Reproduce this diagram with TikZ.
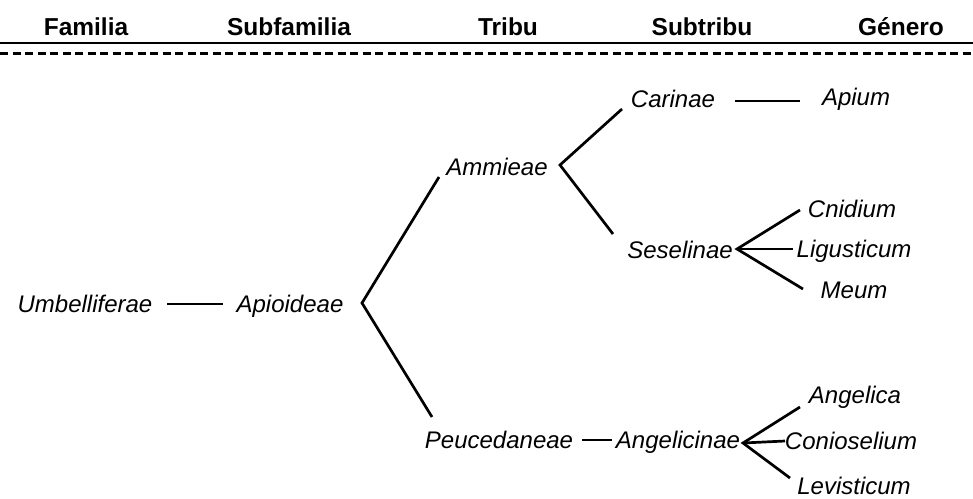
\documentclass[tikz,border=0pt]{standalone}
\usepackage{fontspec}
\setmainfont{Liberation Sans}
\begin{document}
\begin{tikzpicture}[x=1pt,y=-1pt,
  hdr/.style={font=\fontsize{24.5}{28}\selectfont\bfseries,inner sep=0pt,anchor=base},
  taxon/.style={font=\fontsize{24}{28}\selectfont\itshape,inner sep=0pt,anchor=base},
  link/.style={line width=2.7pt,line cap=butt,line join=miter}]
\useasboundingbox (0,0) rectangle (973,498);
% header
\node[hdr] (h1) at (86,35) {Familia};
\node[hdr] (h2) at (289,35) {Subfamilia};
\node[hdr] (h3) at (508,35) {Tribu};
\node[hdr] (h4) at (702,35) {Subtribu};
\node[hdr] (h5) at (901,35) {Género};
\coordinate (sl) at (0,43); \coordinate (sr) at (973,43);
\coordinate (dl) at (0,53); \coordinate (dr) at (973,53);
\draw[line width=2.5pt] (sl) -- (sr);
\draw[line width=3pt,dash pattern=on 8pt off 4.5pt] (dl) -- (dr);
% taxa
\node[taxon] (umb) at (85,312) {Umbelliferae};
\node[taxon] (api) at (290,312) {Apioideae};
\node[taxon] (amm) at (497,175) {Ammieae};
\node[taxon] (pec) at (499,448) {Peucedaneae};
\node[taxon] (car) at (673,107) {Carinae};
\node[taxon] (ses) at (680,258) {Seselinae};
\node[taxon] (ang) at (678,448) {Angelicinae};
\node[taxon] (apm) at (856,105) {Apium};
\node[taxon] (cni) at (852,217) {Cnidium};
\node[taxon] (lig) at (854,257) {Ligusticum};
\node[taxon] (meu) at (854,298) {Meum};
\node[taxon] (agl) at (855,403) {Angelica};
\node[taxon] (con) at (851,449) {Conioselium};
\node[taxon] (lev) at (854,494.5) {Levisticum};
% connector points
\coordinate (umbE) at (167,304); \coordinate (apiW) at (223,304);
\coordinate (v1) at (362,303);
\coordinate (ammW) at (439,177); \coordinate (pecW) at (432,417);
\coordinate (v2) at (560,165);
\coordinate (carW) at (622,109); \coordinate (sesW) at (613,234);
\coordinate (carE) at (735,101); \coordinate (apmW) at (800,101);
\coordinate (v3) at (737,249);
\coordinate (cniW) at (800,210); \coordinate (ligW) at (793,249); \coordinate (meuW) at (803,289);
\coordinate (pecE) at (582,440); \coordinate (angW) at (612,440);
\coordinate (v4) at (743,443);
\coordinate (aglW) at (800,407); \coordinate (conW) at (785,441); \coordinate (levW) at (790,478);
% connectors
\draw[link] (umbE) -- (apiW);
\draw[link] (ammW) -- (v1) -- (pecW);
\draw[link] (carW) -- (v2) -- (sesW);
\draw[link] (carE) -- (apmW);
\draw[link] (cniW) -- (v3) -- (meuW);
\draw[link] (v3) -- (ligW);
\draw[link] (pecE) -- (angW);
\draw[link] (aglW) -- (v4) -- (levW);
\draw[link] (v4) -- (conW);
\end{tikzpicture}
\end{document}
